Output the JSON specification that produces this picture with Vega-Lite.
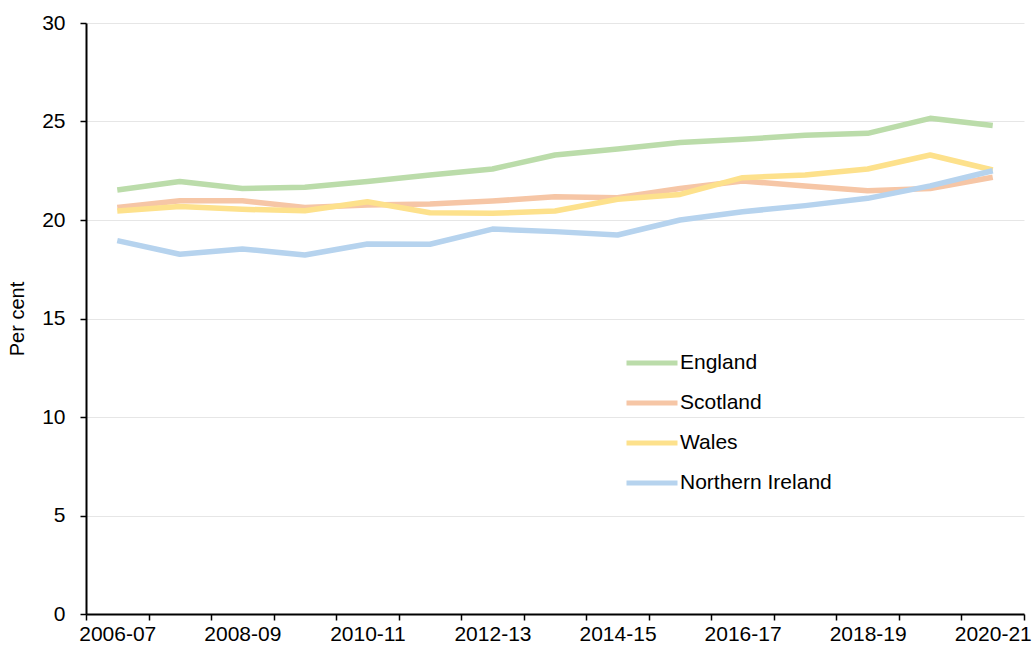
{
  "$schema": "https://vega.github.io/schema/vega-lite/v6.json",
  "width": 938,
  "height": 591,
  "autosize": {"type": "none"},
  "padding": {"left": 86, "top": 23, "right": 10, "bottom": 36},
  "background": "white",
  "config": {
    "font": "Liberation Sans",
    "view": {"stroke": null}
  },
  "data": {
    "values": [
      {"year": "2006-07", "region": "England", "value": 21.52},
      {"year": "2007-08", "region": "England", "value": 21.95},
      {"year": "2008-09", "region": "England", "value": 21.6},
      {"year": "2009-10", "region": "England", "value": 21.66},
      {"year": "2010-11", "region": "England", "value": 21.95},
      {"year": "2011-12", "region": "England", "value": 22.28},
      {"year": "2012-13", "region": "England", "value": 22.59},
      {"year": "2013-14", "region": "England", "value": 23.3},
      {"year": "2014-15", "region": "England", "value": 23.6},
      {"year": "2015-16", "region": "England", "value": 23.93},
      {"year": "2016-17", "region": "England", "value": 24.1},
      {"year": "2017-18", "region": "England", "value": 24.3},
      {"year": "2018-19", "region": "England", "value": 24.4},
      {"year": "2019-20", "region": "England", "value": 25.16},
      {"year": "2020-21", "region": "England", "value": 24.8},
      {"year": "2006-07", "region": "Scotland", "value": 20.63},
      {"year": "2007-08", "region": "Scotland", "value": 20.98},
      {"year": "2008-09", "region": "Scotland", "value": 20.98},
      {"year": "2009-10", "region": "Scotland", "value": 20.64},
      {"year": "2010-11", "region": "Scotland", "value": 20.76},
      {"year": "2011-12", "region": "Scotland", "value": 20.81},
      {"year": "2012-13", "region": "Scotland", "value": 20.96},
      {"year": "2013-14", "region": "Scotland", "value": 21.18},
      {"year": "2014-15", "region": "Scotland", "value": 21.13},
      {"year": "2015-16", "region": "Scotland", "value": 21.6},
      {"year": "2016-17", "region": "Scotland", "value": 21.98},
      {"year": "2017-18", "region": "Scotland", "value": 21.73},
      {"year": "2018-19", "region": "Scotland", "value": 21.49},
      {"year": "2019-20", "region": "Scotland", "value": 21.6},
      {"year": "2020-21", "region": "Scotland", "value": 22.17},
      {"year": "2006-07", "region": "Wales", "value": 20.46},
      {"year": "2007-08", "region": "Wales", "value": 20.68},
      {"year": "2008-09", "region": "Wales", "value": 20.54},
      {"year": "2009-10", "region": "Wales", "value": 20.47},
      {"year": "2010-11", "region": "Wales", "value": 20.93},
      {"year": "2011-12", "region": "Wales", "value": 20.37},
      {"year": "2012-13", "region": "Wales", "value": 20.34},
      {"year": "2013-14", "region": "Wales", "value": 20.46},
      {"year": "2014-15", "region": "Wales", "value": 21.05},
      {"year": "2015-16", "region": "Wales", "value": 21.3},
      {"year": "2016-17", "region": "Wales", "value": 22.15},
      {"year": "2017-18", "region": "Wales", "value": 22.28},
      {"year": "2018-19", "region": "Wales", "value": 22.59},
      {"year": "2019-20", "region": "Wales", "value": 23.3},
      {"year": "2020-21", "region": "Wales", "value": 22.54},
      {"year": "2006-07", "region": "Northern Ireland", "value": 18.95},
      {"year": "2007-08", "region": "Northern Ireland", "value": 18.26},
      {"year": "2008-09", "region": "Northern Ireland", "value": 18.53},
      {"year": "2009-10", "region": "Northern Ireland", "value": 18.22},
      {"year": "2010-11", "region": "Northern Ireland", "value": 18.78},
      {"year": "2011-12", "region": "Northern Ireland", "value": 18.77},
      {"year": "2012-13", "region": "Northern Ireland", "value": 19.54},
      {"year": "2013-14", "region": "Northern Ireland", "value": 19.41},
      {"year": "2014-15", "region": "Northern Ireland", "value": 19.24},
      {"year": "2015-16", "region": "Northern Ireland", "value": 20.0},
      {"year": "2016-17", "region": "Northern Ireland", "value": 20.42},
      {"year": "2017-18", "region": "Northern Ireland", "value": 20.73},
      {"year": "2018-19", "region": "Northern Ireland", "value": 21.1},
      {"year": "2019-20", "region": "Northern Ireland", "value": 21.73},
      {"year": "2020-21", "region": "Northern Ireland", "value": 22.5}
    ]
  },
  "mark": {"type": "line", "strokeWidth": 5.5, "strokeJoin": "round", "strokeCap": "butt"},
  "encoding": {
    "x": {
      "field": "year",
      "type": "ordinal",
      "bandPosition": 0.5,
      "scale": {"type": "band", "paddingInner": 0, "paddingOuter": 0},
      "axis": {
        "title": null,
        "tickBand": "extent",
        "labelAngle": 0,
        "labelFontSize": 21,
        "labelColor": "#000000",
        "labelPadding": 3,
        "labelExpr": "indexof(['2006-07','2008-09','2010-11','2012-13','2014-15','2016-17','2018-19','2020-21'], datum.value) >= 0 ? datum.label : ''",
        "labelOverlap": false,
        "domainColor": "#000000",
        "domainWidth": 2,
        "tickColor": "#000000",
        "tickWidth": 1.5,
        "tickSize": 6,
        "grid": false
      }
    },
    "y": {
      "field": "value",
      "type": "quantitative",
      "scale": {"domain": [0, 30], "nice": false},
      "axis": {
        "title": "Per cent",
        "titleFontSize": 20,
        "titleFontWeight": "normal",
        "titleColor": "#000000",
        "titlePadding": 14,
        "values": [0, 5, 10, 15, 20, 25, 30],
        "labelFontSize": 21,
        "labelColor": "#000000",
        "labelPadding": 15,
        "domainColor": "#000000",
        "domainWidth": 2,
        "tickColor": "#000000",
        "tickWidth": 1.5,
        "tickSize": 6,
        "grid": true,
        "gridColor": "#e6e6e6",
        "gridWidth": 1
      }
    },
    "color": {
      "field": "region",
      "type": "nominal",
      "scale": {
        "domain": ["England", "Scotland", "Wales", "Northern Ireland"],
        "range": ["#bbdcaa", "#f6c6a6", "#fde18c", "#b6d3ee"]
      },
      "legend": {
        "title": null,
        "orient": "none",
        "legendX": 538,
        "legendY": 312,
        "symbolType": "stroke",
        "symbolSize": 2601,
        "symbolStrokeWidth": 5,
        "labelFontSize": 21,
        "labelColor": "#000000",
        "labelOffset": 0,
        "rowPadding": 2
      }
    }
  }
}
